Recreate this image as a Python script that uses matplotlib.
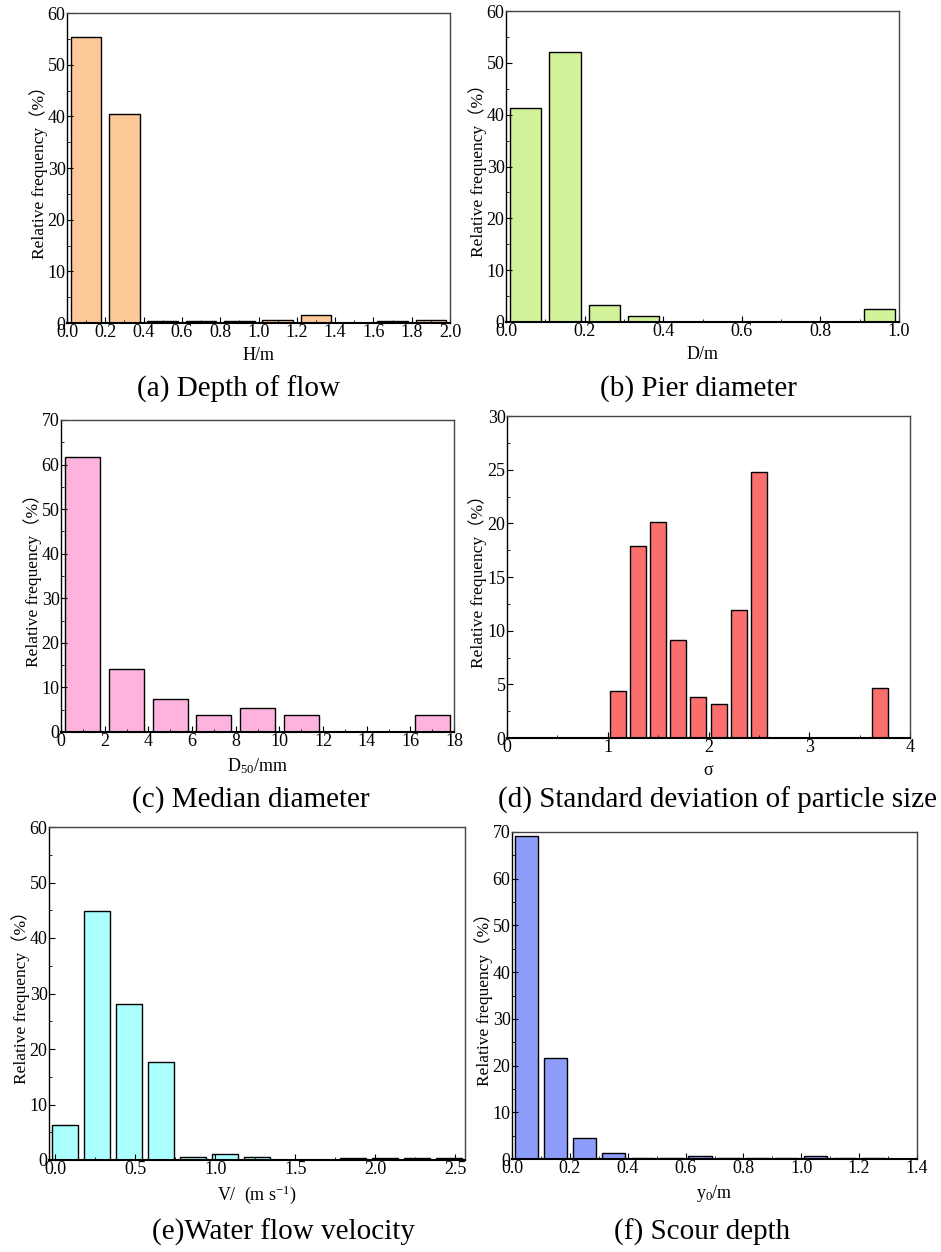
import matplotlib
matplotlib.use("Agg")
import matplotlib.pyplot as plt
from matplotlib.ticker import MultipleLocator

plt.rcParams['font.family'] = ['Liberation Serif', 'Noto Sans CJK SC', 'DejaVu Serif']
plt.rcParams['mathtext.fontset'] = 'custom'
plt.rcParams['mathtext.rm'] = 'Liberation Serif'
plt.rcParams['mathtext.it'] = 'Liberation Serif:italic'

# (a) profundidad de flujo
h_centros = [0.1, 0.3, 0.5, 0.7, 0.9, 1.1, 1.3, 1.5, 1.7, 1.9]
h_frec = [55.3, 40.5, 0.3, 0.3, 0.3, 0.6, 1.5, 0.0, 0.3, 0.6]

# (b) diametro de pila
d_centros = [0.05, 0.15, 0.25, 0.35, 0.45, 0.55, 0.65, 0.75, 0.85, 0.95]
d_frec = [41.2, 52.0, 3.2, 1.2, 0.0, 0.0, 0.0, 0.0, 0.0, 2.5]

# (c) diametro medio
d50_centros = [1, 3, 5, 7, 9, 11, 13, 15, 17]
d50_frec = [61.6, 14.1, 7.5, 3.8, 5.3, 3.8, 0.0, 0.0, 3.8]

# (d) desviacion estandar
sig_centros = [1.1, 1.3, 1.5, 1.7, 1.9, 2.1, 2.3, 2.5, 3.7]
sig_frec = [4.4, 17.9, 20.1, 9.1, 3.8, 3.2, 11.9, 24.8, 4.7]

# (e) velocidad
v_centros = [0.06, 0.26, 0.46, 0.66, 0.86, 1.06, 1.26, 1.46, 1.66, 1.86, 2.06, 2.26, 2.46]
v_frec = [6.3, 44.8, 28.1, 17.7, 0.6, 1.0, 0.6, 0.0, 0.0, 0.35, 0.35, 0.35, 0.35]

# (f) profundidad de socavacion
y0_centros = [0.05, 0.15, 0.25, 0.35, 0.45, 0.55, 0.65, 0.75, 0.85, 0.95, 1.05, 1.15, 1.25, 1.35]
y0_frec = [69.2, 21.7, 4.4, 1.2, 0.3, 0.3, 0.7, 0.3, 0.3, 0.3, 0.7, 0.3, 0.3, 0.0]

W, H = 941, 1252
fig = plt.figure(figsize=(W / 100, H / 100), dpi=100)

paneles = [
    # caja en pixeles (izq, arriba, der, abajo), datos, ancho, color, limites, ticks, etiqueta, titulo
    dict(caja=(67, 13, 450, 323), x=h_centros, y=h_frec, w=0.16, color='#FDC998',
         xlim=(0, 2.0), ylim=(0, 60), xmaj=0.2, xmin=0.1, ymaj=10, ymin=5,
         xlabel='H/m', titulo='(a) Depth of flow', tpos=(238, 389), fmt='%.1f'),
    dict(caja=(506, 11, 899, 322), x=d_centros, y=d_frec, w=0.08, color='#D2F29A',
         xlim=(0, 1.0), ylim=(0, 60), xmaj=0.2, xmin=0.1, ymaj=10, ymin=5,
         xlabel='D/m', titulo='(b) Pier diameter', tpos=(698, 389), fmt='%.1f'),
    dict(caja=(61, 420, 454, 732), x=d50_centros, y=d50_frec, w=1.6, color='#FDB3DD',
         xlim=(0, 18), ylim=(0, 70), xmaj=2, xmin=1, ymaj=10, ymin=5,
         xlabel='D$_{50}$/mm', titulo='(c) Median diameter', tpos=(251, 800), fmt='%d'),
    dict(caja=(507, 416, 910, 738), x=sig_centros, y=sig_frec, w=0.16, color='#FB6E6E',
         xlim=(0, 4), ylim=(0, 30), xmaj=1, xmin=0.5, ymaj=5, ymin=2.5,
         xlabel='σ', titulo='(d) Standard deviation of particle size', tpos=(717, 800), fmt='%d'),
    dict(caja=(49, 827, 465, 1160), x=v_centros, y=v_frec, w=0.16, color='#ABFFFF',
         xlim=(-0.04, 2.56), ylim=(0, 60), xmaj=0.5, xmin=0.25, ymaj=10, ymin=5,
         xlabel='V/  (m s$^{-1}$)', titulo='(e)Water flow velocity', tpos=(283, 1232), fmt='%.1f'),
    dict(caja=(512, 832, 917, 1159), x=y0_centros, y=y0_frec, w=0.08, color='#8E9DFA',
         xlim=(0, 1.4), ylim=(0, 70), xmaj=0.2, xmin=0.1, ymaj=10, ymin=5,
         xlabel='y$_{0}$/m', titulo='(f) Scour depth', tpos=(702, 1232), fmt='%.1f'),
]

for p in paneles:
    l, t, r, b = p['caja']
    ax = fig.add_axes([l / W, 1 - b / H, (r - l) / W, (b - t) / H])
    ax.bar(p['x'], p['y'], width=p['w'], color=p['color'], edgecolor='black', linewidth=1.0)
    ax.set_xlim(*p['xlim'])
    ax.set_ylim(*p['ylim'])
    ax.xaxis.set_major_locator(MultipleLocator(p['xmaj']))
    ax.xaxis.set_minor_locator(MultipleLocator(p['xmin']))
    ax.yaxis.set_major_locator(MultipleLocator(p['ymaj']))
    ax.yaxis.set_minor_locator(MultipleLocator(p['ymin']))
    ax.xaxis.set_major_formatter(plt.FormatStrFormatter(p['fmt']))
    ax.tick_params(which='both', direction='in', top=False, right=False, labelsize=13, pad=1)
    ax.tick_params(which='major', length=4, width=0.8)
    ax.tick_params(which='minor', length=2, width=0.6)
    for lado in ['top', 'right']:
        ax.spines[lado].set_color('#444444')
        ax.spines[lado].set_linewidth(1.0)
    ax.spines['left'].set_linewidth(1.0)
    ax.spines['bottom'].set_linewidth(1.5)
    ax.set_xlabel(p['xlabel'], fontsize=13, labelpad=4)
    ax.set_ylabel('Relative frequency（%）', fontsize=12.5, labelpad=0)
    fig.text(p['tpos'][0] / W, 1 - p['tpos'][1] / H, p['titulo'], fontsize=21,
             ha='center', va='center')

fig.savefig('out.png', dpi=100)
